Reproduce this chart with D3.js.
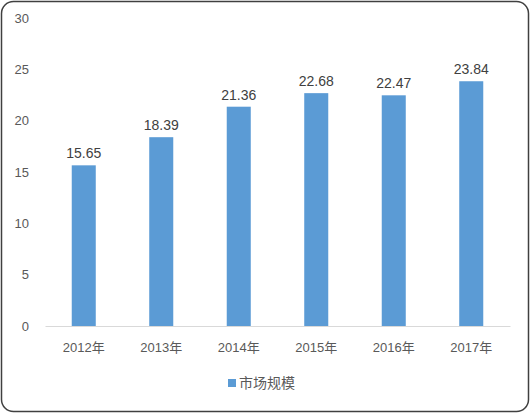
<!DOCTYPE html>
<html>
<head>
<meta charset="utf-8">
<script src="https://d3js.org/d3.v7.min.js"></script>
<style>
  body { margin: 0; background: #fff; }
  text { font-family: "Liberation Sans", "Noto Sans CJK SC", sans-serif; }
</style>
</head>
<body>
<div id="chart"></div>
<script>
const years = ["2012年", "2013年", "2014年", "2015年", "2016年", "2017年"];
const marketSize = [15.65, 18.39, 21.36, 22.68, 22.47, 23.84];
const yTicks = [0, 5, 10, 15, 20, 25, 30];
const seriesName = "市场规模";

const width = 530, height = 413;
const svg = d3.select("#chart").append("svg")
  .attr("width", width)
  .attr("height", height);

// outer frame
svg.append("rect")
  .attr("x", 1.5).attr("y", 1.5)
  .attr("width", width - 3).attr("height", height - 3)
  .attr("rx", 12)
  .attr("fill", "#fff")
  .attr("stroke", "#404040")
  .attr("stroke-width", 1.5);

const x = d3.scaleBand()
  .domain(years)
  .range([45, 510])
  .paddingInner(0.69)
  .paddingOuter(0.345);

const y = d3.scaleLinear()
  .domain([0, 30])
  .range([326, 18]);

// y tick labels
svg.selectAll(".ytick")
  .data(yTicks)
  .enter().append("text")
  .attr("x", 29)
  .attr("y", d => y(d))
  .attr("dy", "0.35em")
  .attr("text-anchor", "end")
  .attr("font-size", 13)
  .attr("fill", "#595959")
  .text(d => d);

// bars
svg.selectAll(".bar")
  .data(marketSize)
  .enter().append("rect")
  .attr("x", (d, i) => x(years[i]))
  .attr("y", d => y(d))
  .attr("width", x.bandwidth())
  .attr("height", d => y(0) - y(d))
  .attr("fill", "#5b9bd5");

// value labels
svg.selectAll(".val")
  .data(marketSize)
  .enter().append("text")
  .attr("x", (d, i) => x(years[i]) + x.bandwidth() / 2)
  .attr("y", d => y(d) - 7)
  .attr("text-anchor", "middle")
  .attr("font-size", 14)
  .attr("fill", "#404040")
  .text(d => d.toFixed(2));

// x axis
const xAxis = svg.append("g")
  .attr("transform", `translate(0,${y(0)})`)
  .call(d3.axisBottom(x).tickSize(0).tickPadding(17));
xAxis.select(".domain").attr("stroke", "#d9d9d9");
xAxis.selectAll("text")
  .attr("font-size", 13)
  .attr("fill", "#595959")
  .attr("font-family", "'Liberation Sans', 'Noto Sans CJK SC', sans-serif");

// legend
const legend = svg.append("g").attr("transform", "translate(228,383)");
legend.append("rect")
  .attr("x", 0).attr("y", -4)
  .attr("width", 8).attr("height", 8)
  .attr("fill", "#5b9bd5");
legend.append("text")
  .attr("x", 11)
  .attr("y", 0)
  .attr("dy", "0.35em")
  .attr("font-size", 14)
  .attr("fill", "#595959")
  .text(seriesName);
</script>
</body>
</html>
